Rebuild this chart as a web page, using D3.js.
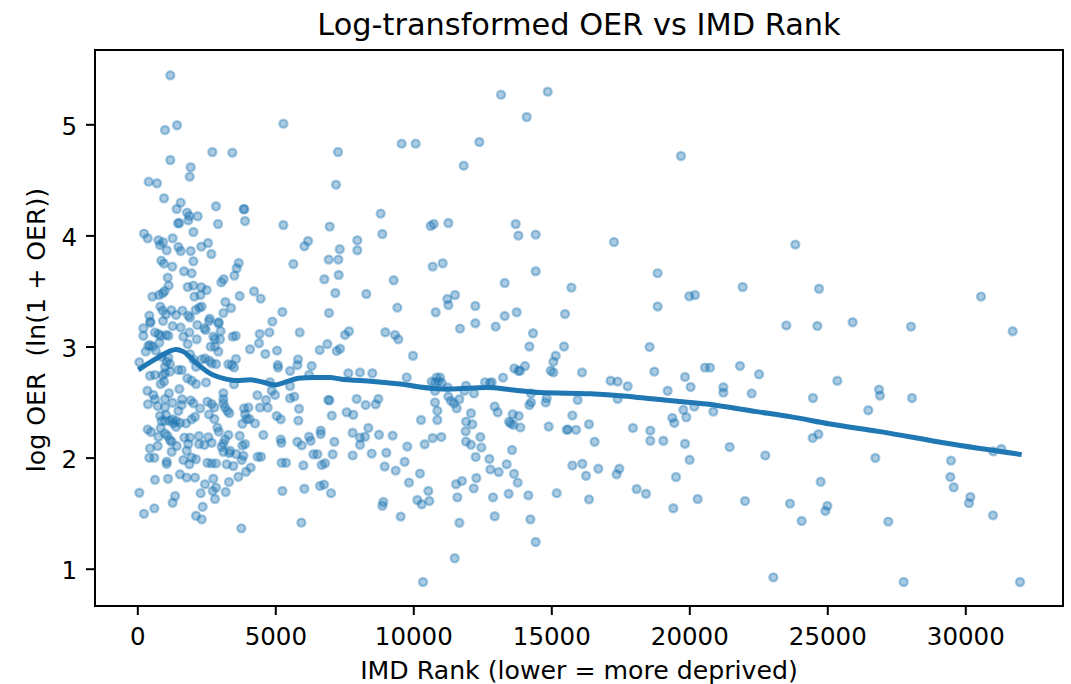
<!DOCTYPE html>
<html><head><meta charset="utf-8">
<script src="https://cdn.jsdelivr.net/npm/d3@7/dist/d3.min.js"></script>
<style>html,body{margin:0;padding:0;background:#fff}svg{display:block}text{font-family:"DejaVu Sans",sans-serif;fill:#000}</style>
</head><body><svg id="c" width="1071" height="684"></svg>
<script>
const chartTitle="Log-transformed OER vs IMD Rank";
const xLabel="IMD Rank (lower = more deprived)";
const yLabel="log OER  (ln(1 + OER))";
const xTicks=[0,5000,10000,15000,20000,25000,30000];
const yTicks=[1,2,3,4,5];
const lowess=[[37,2.789],[702,2.893],[1403,2.974],[1668,2.954],[2152,2.848],[2635,2.758],[3118,2.713],[3601,2.693],[4084,2.70],[4568,2.678],[4990,2.654],[5413,2.684],[5836,2.714],[6380,2.722],[6984,2.72],[7346,2.708],[8552,2.686],[9518,2.662],[10726,2.623],[11330,2.617],[12659,2.63],[13626,2.608],[14592,2.585],[16404,2.574],[17609,2.555],[18817,2.525],[20629,2.482],[22441,2.414],[23649,2.369],[25097,2.303],[26909,2.234],[29325,2.129],[32043,2.027]];
const highRegion=[[1197,5.441],[1439,4.991],[1004,4.949],[5293,5.006],[2720,4.751],[3444,4.745],[1197,4.679],[1934,4.613],[1898,4.529],[7273,4.751],[7200,4.457],[412,4.484],[714,4.469],[968,4.334],[1572,4.295],[1427,4.238],[2852,4.262],[3855,4.238],[3875,4.235],[1801,4.205],[1886,4.175],[2188,4.172],[1850,4.136],[1475,4.109],[1523,4.112],[2925,4.103],[3904,4.130],[5293,4.094],[6972,4.079],[2032,4.031],[243,4.016],[376,3.974],[763,3.956],[932,3.938],[823,3.914],[1281,3.974],[2562,3.932],[2321,3.899],[6188,3.950],[6055,3.902],[1487,3.896],[1572,3.860],[1064,3.866],[1934,3.860],[2683,3.833],[7335,3.875],[871,3.773],[968,3.746],[1270,3.719],[2032,3.767],[3674,3.752],[3601,3.704],[5655,3.743],[6936,3.782],[7286,3.782],[1692,3.677],[1970,3.659],[3517,3.638],[7297,3.644],[1101,3.620],[6778,3.605],[3130,3.605],[3045,3.578],[1137,3.548],[1825,3.536],[2032,3.548],[2321,3.533],[2514,3.509],[992,3.500],[920,3.479],[787,3.464],[545,3.449],[2285,3.464],[2067,3.449],[3710,3.455],[4229,3.497],[4471,3.431],[7176,3.482],[3191,3.401],[835,3.359],[920,3.323],[1234,3.326],[1632,3.323],[2333,3.359],[2248,3.350],[2115,3.329],[3396,3.347],[3118,3.302],[5257,3.311],[6947,3.302],[436,3.278],[1040,3.290],[1403,3.284],[1850,3.278],[1910,3.260],[2623,3.251],[2949,3.218],[4893,3.224],[472,3.224],[932,3.230]];
const lowLeftRegion=[[219,3.164],[472,3.214],[219,3.097],[641,3.127],[763,3.113],[847,3.097],[1125,3.097],[1040,3.104],[1281,3.184],[1572,3.172],[1668,3.089],[1886,3.127],[2152,3.065],[2176,3.194],[2430,3.164],[2478,3.149],[2599,3.229],[2937,3.209],[3021,3.139],[2997,3.065],[2755,3.089],[2816,3.068],[3456,3.089],[3565,3.097],[4434,3.113],[4785,3.127],[5884,3.127],[4410,3.029],[4084,2.975],[4640,2.933],[5063,2.963],[460,3.014],[400,3.005],[799,3.035],[557,2.999],[303,2.954],[666,2.963],[1825,3.022],[2659,2.999],[2816,2.999],[2937,2.954],[74,2.858],[883,2.908],[1125,2.899],[1064,2.863],[1004,2.818],[1185,2.842],[1910,2.930],[2031,2.884],[2333,2.884],[2454,2.893],[2611,2.872],[2695,2.848],[2852,2.842],[2127,2.818],[3300,2.840],[3420,2.834],[3505,2.812],[3577,2.888],[5088,2.833],[5100,2.81],[5824,2.884],[5800,2.833],[5534,2.78],[6319,2.825],[6609,2.968],[6887,3.022],[7225,2.96],[7346,2.98],[6223,2.744],[460,2.737],[641,2.744],[920,2.744],[1004,2.759],[1185,2.774],[1487,2.789],[1608,2.789],[847,2.662],[968,2.684],[1813,2.714],[1970,2.693],[2127,2.662],[2490,2.677],[3505,2.660],[4809,2.678],[5534,2.644],[4870,2.602],[4990,2.564],[364,2.602],[1150,2.579],[581,2.564],[1523,2.617],[3118,2.579],[4350,2.561],[5534,2.534],[5690,2.549],[4664,2.519],[3118,2.528],[1620,2.525],[641,2.525],[388,2.48],[1004,2.528],[1281,2.494],[1934,2.515],[2031,2.489],[2539,2.504],[2695,2.483],[3118,2.489],[6923,2.519],[6960,2.516],[739,2.465],[1004,2.452],[1608,2.474],[2273,2.443],[2792,2.452],[3178,2.452],[4446,2.45],[3867,2.443],[4024,2.452],[4724,2.45],[5860,2.44],[1487,2.42],[3263,2.42],[3335,2.40],[3904,2.39],[823,2.377],[1040,2.383],[2091,2.368],[2599,2.389],[7045,2.378],[5051,2.375],[5196,2.345],[3964,2.347],[4060,2.347],[1970,2.345],[2792,2.347],[883,2.33],[1004,2.33],[1185,2.33],[1281,2.345],[1403,2.33],[1547,2.314],[1765,2.308],[1305,2.308],[1403,2.278],[4265,2.308],[3806,2.305],[5836,2.333],[2900,2.27],[2949,2.234],[376,2.254],[496,2.23],[847,2.264],[1004,2.218],[1089,2.197],[763,2.188],[1185,2.158],[1245,2.143],[1427,2.104],[1704,2.18],[1910,2.18],[1850,2.122],[2237,2.194],[2575,2.183],[2237,2.122],[2430,2.114],[2695,2.134],[3300,2.204],[3178,2.164],[3118,2.128],[3057,2.098],[3118,2.053],[3360,2.062],[3710,2.197],[3904,2.122],[3806,2.108],[4568,2.204],[5196,2.164],[5220,2.134],[5800,2.143],[5957,2.11],[6223,2.188],[6284,2.152],[6645,2.243],[6645,2.212],[7140,2.143],[460,2.083],[739,2.104],[436,1.999],[617,1.999],[1245,2.053],[1064,1.964],[1064,1.943],[1789,2.062],[1668,1.979],[1886,1.94],[1970,2.0],[2127,1.985],[2539,1.954],[2695,1.948],[2852,1.948],[3239,1.94],[3481,1.924],[3335,2.04],[3577,2.032],[3843,2.017],[3782,1.979],[4362,2.008],[4483,2.008],[5231,1.954],[5388,1.954],[6017,1.93],[6380,2.03],[6525,2.03],[6681,1.934],[6802,1.949],[7080,2.03],[4109,1.91],[3940,1.873],[3661,1.828],[1547,1.85],[1789,1.82],[2091,1.82],[641,1.80],[1113,1.81],[2755,1.81],[3323,1.78],[2454,1.76],[2852,1.73],[2731,1.70],[2297,1.68],[3203,1.69],[74,1.684],[1369,1.654],[1281,1.594],[2816,1.627],[2369,1.558],[617,1.543],[243,1.495],[2127,1.477],[2333,1.444],[3770,1.363],[5945,1.415],[5256,1.70],[6054,1.72],[6620,1.745],[6766,1.757],[7020,1.68]];
const midUpperRegion=[[13179,5.267],[14870,5.294],[14109,5.066],[9579,4.826],[10086,4.826],[12393,4.841],[11826,4.628],[8818,4.196],[8878,4.013],[10630,4.085],[10738,4.103],[11270,4.112],[13710,4.103],[13807,3.998],[14435,4.007],[7972,3.956],[7972,3.866],[10702,3.719],[11065,3.749],[14435,3.677],[9289,3.596],[13312,3.572],[15727,3.53],[8298,3.473],[9422,3.35],[10811,3.308],[11270,3.374],[11234,3.428],[11512,3.464],[12248,3.365],[13312,3.275],[13746,3.308],[15498,3.293],[12248,3.209],[11693,3.161],[12985,3.179],[8987,3.128],[9337,3.104],[9458,3.065],[7670,3.137],[7525,3.104],[14338,3.119]];
const midLowerRegion=[[14205,3.0],[15462,3.0],[15160,2.917],[15075,2.863],[9990,2.917],[14048,2.824],[13662,2.803],[13807,2.782],[13867,2.782],[14979,2.782],[15075,2.767],[16114,2.767],[7646,2.759],[8069,2.767],[8516,2.759],[13251,2.72],[9760,2.722],[10666,2.684],[10847,2.722],[10968,2.722],[10908,2.684],[11028,2.675],[10787,2.675],[11246,2.632],[10787,2.6],[11910,2.647],[11850,2.602],[12200,2.578],[12599,2.678],[12840,2.678],[12780,2.669],[14266,2.578],[14834,2.534],[14798,2.497],[15957,2.519],[14266,2.497],[14205,2.473],[11270,2.549],[11367,2.51],[11475,2.489],[11668,2.525],[11572,2.444],[10787,2.497],[10871,2.422],[10871,2.338],[10280,2.338],[7948,2.528],[8274,2.474],[8636,2.48],[8733,2.528],[7586,2.408],[7827,2.386],[7803,2.224],[8371,2.267],[8069,2.18],[8250,2.188],[8069,2.116],[8757,2.206],[9253,2.198],[7803,2.02],[8492,2.036],[9023,2.044],[9784,2.1],[10412,2.12],[10702,2.176],[11016,2.186],[8963,1.92],[9687,1.963],[9361,1.883],[10243,1.856],[9844,1.775],[10545,1.7],[10147,1.618],[10304,1.58],[10581,1.61],[8914,1.6],[8878,1.567],[9543,1.469],[12091,2.399],[11910,2.324],[12140,2.3],[11898,2.237],[11910,2.144],[12091,2.116],[12430,2.186],[12466,2.092],[12260,2.006],[11548,1.76],[11765,1.79],[12285,1.816],[12188,1.723],[11596,1.642],[12889,1.642],[12949,1.472],[11669,1.414],[11500,1.094],[10352,0.88],[14435,1.24],[14242,1.444],[13456,1.675],[14169,1.66],[15196,1.68],[16367,1.624],[12756,1.988],[12792,1.894],[13094,1.87],[13384,1.94],[13650,1.855],[13783,1.775],[13577,2.068],[12949,2.46],[13058,2.408],[13601,2.39],[13819,2.375],[13469,2.324],[13529,2.308],[13625,2.296],[13879,2.272],[14906,2.28],[15764,2.38],[15558,2.25],[15607,2.254],[15897,2.25],[16367,2.3],[15764,1.93],[16126,1.945],[16259,1.837]];
const rightRegion=[[19699,4.715],[17271,3.94],[23842,3.917],[18853,3.66],[21934,3.536],[24700,3.52],[20001,3.452],[20206,3.464],[18853,3.36],[23516,3.19],[24640,3.185],[18563,2.996],[18732,2.774],[17150,2.692],[17404,2.684],[17766,2.642],[19844,2.726],[20049,2.636],[19216,2.602],[20568,2.81],[20750,2.81],[21837,2.825],[22526,2.75],[21233,2.633],[21233,2.585],[22260,2.578],[24482,2.536],[25364,2.692],[17404,2.528],[20182,2.46],[19783,2.43],[20871,2.414],[19385,2.357],[19457,2.312],[19892,2.363],[17959,2.267],[18587,2.243],[18587,2.152],[19059,2.152],[19844,2.125],[20013,1.98],[21463,2.096],[22755,2.02],[24470,2.177],[24676,2.21],[19518,1.825],[18092,1.717],[18430,1.675],[19421,1.544],[20303,1.627],[22018,1.61],[23649,1.586],[24760,1.783],[25002,1.565],[24930,1.52],[24072,1.43],[23045,0.922],[16570,2.143],[16703,1.9],[17464,1.9],[17367,1.85],[30569,3.449],[31717,3.137],[25918,3.218],[28032,3.179],[26873,2.612],[26909,2.558],[28069,2.536],[26486,2.426],[26740,1.997],[29482,1.973],[29458,1.826],[29579,1.733],[30183,1.645],[30134,1.59],[31004,1.48],[27211,1.424],[27767,0.88],[31983,0.88],[31016,2.056],[31306,2.077]];
const points=[...highRegion,...lowLeftRegion,...midUpperRegion,...midLowerRegion,...rightRegion];

const frame={l:95,r:1063,t:50,b:606};
const xz=137.3,yOne=568.7;
const pxPerX=0.0276,pxPerY=111.1;
const x=d3.scaleLinear().domain([(frame.l-xz)/pxPerX,(frame.r-xz)/pxPerX]).range([frame.l,frame.r]);
const y=d3.scaleLinear().domain([1+(yOne-frame.b)/pxPerY,1+(yOne-frame.t)/pxPerY]).range([frame.b,frame.t]);
const svg=d3.select("#c");
const blue="#1f77b4";
svg.append("rect").attr("width",1071).attr("height",684).attr("fill","#fff");
svg.append("g").style("filter","blur(0.5px)").selectAll("circle").data(points).join("circle")
  .attr("cx",d=>x(d[0])).attr("cy",d=>y(d[1])).attr("r",4)
  .attr("fill",blue).attr("fill-opacity",.38).attr("stroke",blue).attr("stroke-opacity",.38).attr("stroke-width",2.4);
svg.append("path").datum(lowess).attr("fill","none").attr("stroke",blue).attr("stroke-width",5)
  .attr("d",d3.line().x(d=>x(d[0])).y(d=>y(d[1])).curve(d3.curveMonotoneX));
const xAxis=d3.axisBottom(x).tickValues(xTicks).tickFormat(d3.format("d")).tickSize(9).tickPadding(12.6);
const yAxis=d3.axisLeft(y).tickValues(yTicks).tickFormat(d3.format("d")).tickSize(9).tickPadding(9);
const gx=svg.append("g").attr("transform",`translate(0,${frame.b})`).call(xAxis);
const gy=svg.append("g").attr("transform",`translate(${frame.l},0)`).call(yAxis);
[gx,gy].forEach(g=>{g.select(".domain").remove();g.selectAll("line").attr("stroke","#000").attr("stroke-width",2);
  g.selectAll("text").attr("font-size",24.5).attr("font-family",'"DejaVu Sans"').attr("fill","#000");});
gy.selectAll("text").attr("dy","0.42em");
svg.append("rect").attr("x",frame.l).attr("y",frame.t).attr("width",frame.r-frame.l).attr("height",frame.b-frame.t)
  .attr("fill","none").attr("stroke","#000").attr("stroke-width",2);
svg.append("text").attr("x",579).attr("y",35).attr("text-anchor","middle").attr("font-size",30.4).text(chartTitle);
svg.append("text").attr("x",579).attr("y",679).attr("text-anchor","middle").attr("font-size",25.2).text(xLabel);
svg.append("text").attr("transform","translate(45,330) rotate(-90)").attr("text-anchor","middle").attr("font-size",25.2).style("white-space","pre").text(yLabel);
</script></body></html>
